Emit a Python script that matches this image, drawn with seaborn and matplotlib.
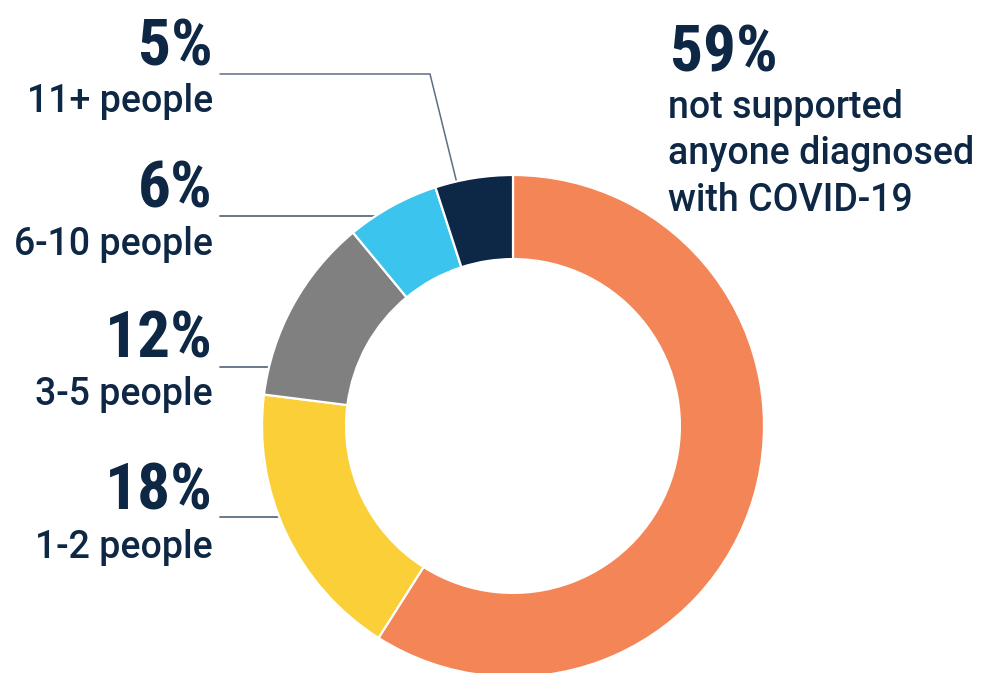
import os
import matplotlib
matplotlib.use("Agg")
import matplotlib.pyplot as plt
from matplotlib import font_manager as fm
import numpy as np
import seaborn as sns

# --- data -------------------------------------------------------------
groups = ["not supported\nanyone diagnosed\nwith COVID-19",
          "1-2 people", "3-5 people", "6-10 people", "11+ people"]
shares = [59, 18, 12, 6, 5]
hex_colors = ["#F38556", "#FBCF37", "#808080", "#3BC4EE", "#0D2846"]

sns.set_theme(style="white")
palette = sns.color_palette(hex_colors)

NAVY = "#0D2745"
LEADER = "#5C6E83"

# --- fonts ------------------------------------------------------------
_files = {}
for p in fm.findSystemFonts() + [f.fname for f in fm.fontManager.ttflist]:
    _files.setdefault(os.path.basename(p).lower(), p)


def find_font(stems):
    for s in stems:
        for ext in (".ttf", ".otf"):
            key = (s + ext).lower()
            if key in _files:
                return fm.FontProperties(fname=_files[key])
    return None


def any_condensed_bold():
    hits = sorted(k for k in _files
                  if ("condensed" in k or "narrow" in k) and "bold" in k
                  and "italic" not in k and "extrabold" not in k
                  and "semibold" not in k)
    return fm.FontProperties(fname=_files[hits[0]]) if hits else None


big_font = (find_font(["NotoSans-CondensedBold", "RobotoCondensed-Bold",
                       "LiberationSansNarrow-Bold", "DejaVuSansCondensed-Bold"])
            or any_condensed_bold()
            or find_font(["Roboto-Bold"])
            or fm.FontProperties(family="DejaVu Sans", weight="bold"))
small_font = (find_font(["Roboto-Medium", "Roboto-Regular"])
              or fm.FontProperties(family="DejaVu Sans"))

# --- canvas in pixel units (y measured upward) -------------------------
W, H = 983, 673
fig = plt.figure(figsize=(W / 100, H / 100), dpi=100)
ax = fig.add_axes([0, 0, 1, 1])

CX, CY, R = 513, H - 426, 251
ax.pie(shares, colors=palette, startangle=90, counterclock=False,
       radius=R, center=(CX, CY),
       wedgeprops=dict(width=R * 0.335, edgecolor="white", linewidth=1.6),
       frame=True)
ax.set_xlim(0, W)
ax.set_ylim(0, H)
ax.set_aspect("auto")
ax.axis("off")


def ring_x(y):
    """x of the left outer rim at height y, pushed a little under the wedge."""
    return CX - np.sqrt(R ** 2 - (y - CY) ** 2) + 4


# --- left-hand labels --------------------------------------------------
# (group index, baseline of %, baseline of caption, leader height)
left = [(4, 65, 112, 74), (3, 208, 255, 216), (2, 358, 405, 367), (1, 510, 558, 517)]
TX = 213
PCT_SIZE = 47
CAP_SIZE = 27
for i, yb, yc, yl in left:
    ax.text(TX, H - yb, f"{shares[i]}%", ha="right", va="baseline",
            fontproperties=big_font, fontsize=PCT_SIZE, color=NAVY)
    ax.text(TX, H - yc, groups[i], ha="right", va="baseline",
            fontproperties=small_font, fontsize=CAP_SIZE, color=NAVY)

# leader for the smallest slice: horizontal run then down to the rim
ang = np.deg2rad(103)
ex, ey = CX + R * np.cos(ang) * 0.99, CY + R * np.sin(ang) * 0.99
ax.plot([220, 430, ex], [H - 74, H - 74, ey], color=LEADER, lw=1.1,
        zorder=0, solid_joinstyle="miter")
for i, yb, yc, yl in left[1:]:
    ax.plot([220, ring_x(H - yl)], [H - yl, H - yl], color=LEADER, lw=1.3, zorder=0)

# --- right-hand label --------------------------------------------------
ax.text(670, H - 72, f"{shares[0]}%", ha="left", va="baseline",
        fontproperties=big_font, fontsize=PCT_SIZE, color=NAVY)
for k, line in enumerate(groups[0].split("\n")):
    ax.text(668, H - (118 + 46.5 * k), line, ha="left", va="baseline",
            fontproperties=small_font, fontsize=CAP_SIZE, color=NAVY)

fig.savefig("out.png", dpi=100, facecolor="white")
